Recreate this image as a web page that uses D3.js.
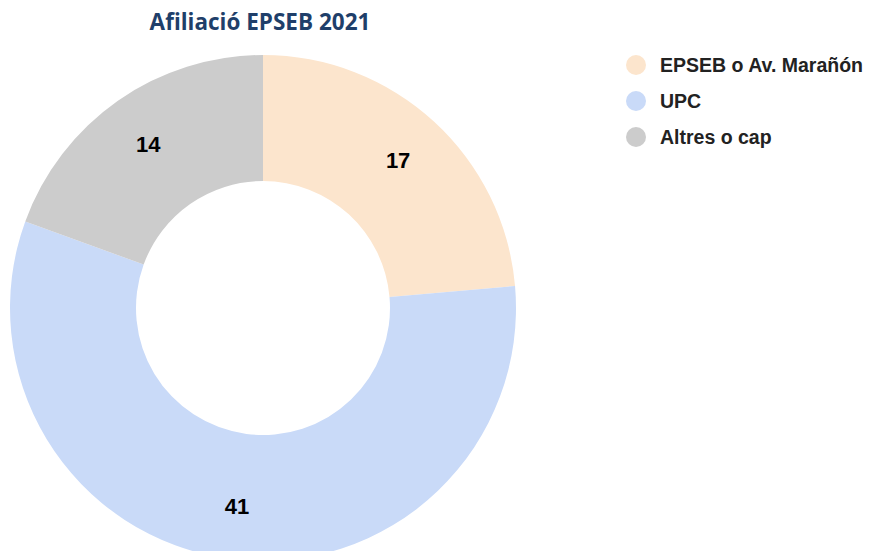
<!DOCTYPE html>
<html>
<head>
<meta charset="utf-8">
<script src="https://cdn.jsdelivr.net/npm/d3@7"></script>
<style>
  body { margin: 0; background: #fff; }
</style>
</head>
<body>
<div id="chart"></div>
<script>
const categories = ["EPSEB o Av. Marañón", "UPC", "Altres o cap"];
const values = [17, 41, 14];
const colors = ["#fce5cd", "#c9daf8", "#cccccc"];

const width = 870, height = 551;
const cx = 263, cy = 308;
const outerR = 253, innerR = 127, labelR = 200;

const svg = d3.select("#chart").append("svg")
  .attr("width", width)
  .attr("height", height);

svg.append("text")
  .attr("x", 260)
  .attr("y", 30)
  .attr("text-anchor", "middle")
  .attr("font-family", "Open Sans, sans-serif")
  .attr("font-weight", "bold")
  .attr("font-size", 22.5)
  .attr("fill", "#1f3f6a")
  .text("Afiliació EPSEB 2021");

const data = categories.map((c, i) => ({ name: c, value: values[i], color: colors[i] }));

const pie = d3.pie().sort(null).value(d => d.value);
const arc = d3.arc().innerRadius(innerR).outerRadius(outerR);
const labelArc = d3.arc().innerRadius(labelR).outerRadius(labelR);

const g = svg.append("g").attr("transform", `translate(${cx},${cy})`);
const arcs = pie(data);

g.selectAll("path")
  .data(arcs)
  .join("path")
  .attr("d", arc)
  .attr("fill", d => d.data.color);

g.selectAll("text")
  .data(arcs)
  .join("text")
  .attr("transform", d => `translate(${labelArc.centroid(d)})`)
  .attr("text-anchor", "middle")
  .attr("dy", "0.35em")
  .attr("font-family", "Liberation Sans, Arial, sans-serif")
  .attr("font-weight", "bold")
  .attr("font-size", 22)
  .attr("fill", "#000")
  .text(d => d.data.value);

// legend
const legend = svg.append("g")
  .selectAll("g")
  .data(data)
  .join("g")
  .attr("transform", (d, i) => `translate(636,${65 + i * 36})`);

legend.append("circle")
  .attr("r", 10)
  .attr("fill", d => d.color);

legend.append("text")
  .attr("x", 24)
  .attr("dy", "0.35em")
  .attr("font-family", "Liberation Sans, Arial, sans-serif")
  .attr("font-weight", "bold")
  .attr("font-size", 19.5)
  .attr("fill", "#222")
  .text(d => d.name);
</script>
</body>
</html>
